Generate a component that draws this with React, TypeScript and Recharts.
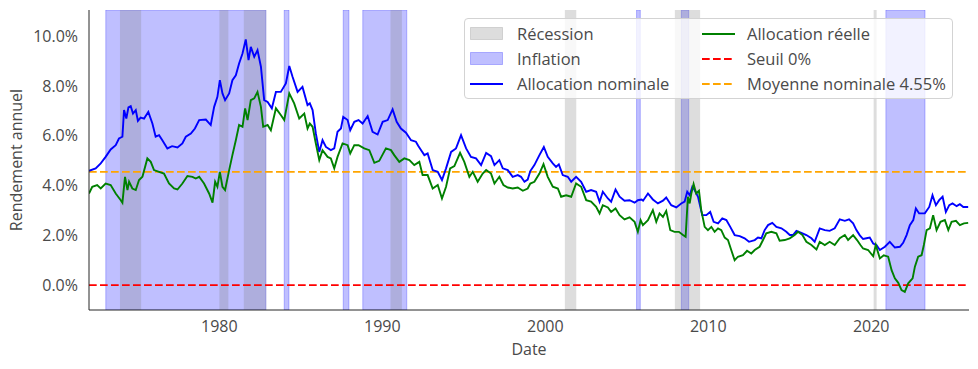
import { Line, LineChart, ReferenceArea, ReferenceLine, XAxis, YAxis } from "recharts";

// [year, % annual yield]
const NOMINAL: [number, number][] = [
  [1972.0, 4.59], [1972.41, 4.69], [1972.72, 4.89], [1973.02, 5.15], [1973.33, 5.45], [1973.64, 5.62],
  [1973.84, 5.89], [1974.05, 5.96], [1974.15, 7.03], [1974.29, 6.69], [1974.42, 7.14], [1974.56, 7.19],
  [1974.7, 6.89], [1974.87, 7.03], [1975.0, 6.6], [1975.17, 6.73], [1975.38, 6.69], [1975.64, 6.96],
  [1975.89, 6.49], [1976.09, 5.96], [1976.3, 6.02], [1976.5, 5.82], [1976.81, 5.49], [1977.1, 5.58],
  [1977.43, 5.53], [1977.73, 5.69], [1977.94, 5.96], [1978.25, 6.09], [1978.5, 6.29], [1978.76, 6.63],
  [1979.17, 6.65], [1979.47, 6.43], [1979.68, 7.16], [1979.88, 7.56], [1980.03, 8.23], [1980.19, 7.7],
  [1980.35, 7.43], [1980.6, 7.7], [1980.8, 8.23], [1981.01, 8.43], [1981.21, 8.9], [1981.42, 9.3],
  [1981.62, 9.87], [1981.79, 9.04], [1981.93, 9.57], [1982.14, 9.17], [1982.34, 9.44], [1982.55, 8.77],
  [1982.75, 7.43], [1982.96, 7.36], [1983.22, 7.1], [1983.47, 7.76], [1983.77, 7.76], [1984.08, 8.1],
  [1984.29, 8.8], [1984.49, 8.37], [1984.8, 7.76], [1985.1, 7.96], [1985.41, 7.23], [1985.55, 7.3],
  [1985.72, 7.03], [1985.92, 6.09], [1986.13, 5.35], [1986.33, 5.82], [1986.54, 5.55], [1986.84, 5.42],
  [1987.05, 5.49], [1987.25, 6.16], [1987.46, 6.29], [1987.6, 6.76], [1987.87, 6.63], [1988.03, 6.22],
  [1988.28, 6.56], [1988.54, 6.63], [1988.79, 6.49], [1989.1, 6.79], [1989.4, 6.16], [1989.71, 6.05],
  [1990.02, 6.56], [1990.33, 6.63], [1990.63, 7.06], [1990.88, 6.56], [1991.14, 6.29], [1991.45, 6.12],
  [1991.76, 5.82], [1992.06, 5.76], [1992.2, 5.6], [1992.4, 5.4], [1992.58, 5.22], [1992.78, 5.29],
  [1993.09, 4.62], [1993.4, 4.55], [1993.66, 4.22], [1993.91, 4.69], [1994.22, 5.35], [1994.52, 5.49],
  [1994.83, 6.02], [1995.14, 5.49], [1995.44, 5.15], [1995.75, 5.09], [1996.06, 4.82], [1996.37, 5.31],
  [1996.67, 5.18], [1996.88, 4.82], [1997.18, 5.02], [1997.39, 4.69], [1997.7, 4.62], [1998.0, 4.35],
  [1998.31, 4.42], [1998.51, 4.35], [1998.72, 4.15], [1998.92, 4.24], [1999.08, 4.58], [1999.33, 4.82],
  [1999.64, 5.22], [1999.91, 5.55], [2000.15, 5.15], [2000.46, 4.89], [2000.66, 4.75], [2000.83, 4.85],
  [2001.07, 4.42], [2001.38, 4.35], [2001.59, 4.15], [2001.89, 4.35], [2002.2, 4.15], [2002.51, 3.75],
  [2002.81, 3.82], [2003.12, 3.75], [2003.33, 3.35], [2003.53, 3.75], [2003.84, 3.48], [2004.04, 3.35],
  [2004.31, 3.84], [2004.56, 3.55], [2004.86, 3.39], [2005.17, 3.41], [2005.48, 3.31], [2005.68, 3.41],
  [2005.91, 3.44], [2006.0, 3.39], [2006.3, 3.68], [2006.6, 3.44], [2006.91, 3.28], [2007.22, 3.39],
  [2007.42, 3.52], [2007.73, 3.21], [2008.04, 3.12], [2008.34, 3.28], [2008.55, 3.35], [2008.71, 3.75],
  [2008.86, 3.61], [2009.02, 3.95], [2009.16, 3.82], [2009.37, 3.55], [2009.63, 2.81], [2009.88, 2.81],
  [2010.12, 2.94], [2010.33, 2.54], [2010.6, 2.48], [2010.86, 2.68], [2011.11, 2.61], [2011.35, 2.34],
  [2011.62, 2.01], [2011.93, 1.97], [2012.23, 1.88], [2012.5, 1.74], [2012.85, 1.81], [2013.05, 1.91],
  [2013.26, 1.88], [2013.46, 2.21], [2013.67, 2.41], [2013.93, 2.5], [2014.18, 2.34], [2014.49, 2.28],
  [2014.79, 2.14], [2015.0, 2.01], [2015.2, 2.01], [2015.41, 2.18], [2015.71, 2.1], [2016.02, 2.01],
  [2016.33, 1.88], [2016.53, 1.74], [2016.84, 2.28], [2017.15, 2.21], [2017.45, 2.18], [2017.76, 2.28],
  [2018.07, 2.64], [2018.38, 2.58], [2018.64, 2.64], [2018.89, 2.48], [2019.09, 2.21], [2019.3, 2.0],
  [2019.5, 1.85], [2019.71, 1.88], [2019.91, 1.91], [2020.12, 1.67], [2020.32, 1.61], [2020.53, 1.41],
  [2020.84, 1.54], [2021.14, 1.74], [2021.45, 1.51], [2021.76, 1.54], [2021.96, 1.7], [2022.17, 2.01],
  [2022.37, 2.41], [2022.58, 2.61], [2022.74, 3.08], [2022.94, 2.88], [2023.29, 2.88], [2023.56, 3.14],
  [2023.76, 3.61], [2023.97, 3.21], [2024.17, 3.41], [2024.38, 3.55], [2024.58, 2.94], [2024.79, 3.21],
  [2024.99, 3.28], [2025.24, 3.17], [2025.44, 3.25], [2025.65, 3.14], [2025.95, 3.14],
];

const REAL: [number, number][] = [
  [1972.0, 3.68], [1972.2, 3.95], [1972.5, 4.02], [1972.72, 3.88], [1973.02, 4.08], [1973.33, 4.02],
  [1973.64, 3.68], [1973.95, 3.41], [1974.05, 3.31], [1974.21, 4.35], [1974.36, 3.82], [1974.46, 4.15],
  [1974.66, 3.88], [1974.87, 3.82], [1975.07, 4.22], [1975.28, 4.35], [1975.58, 5.09], [1975.79, 4.95],
  [1975.99, 4.62], [1976.3, 4.55], [1976.6, 4.48], [1976.91, 4.08], [1977.22, 3.88], [1977.43, 3.84],
  [1977.73, 4.08], [1978.04, 4.38], [1978.35, 4.35], [1978.55, 4.28], [1978.76, 4.35], [1979.06, 4.08],
  [1979.37, 3.68], [1979.58, 3.31], [1979.74, 4.15], [1979.88, 3.95], [1980.03, 4.55], [1980.19, 3.95],
  [1980.35, 3.82], [1980.6, 4.62], [1980.8, 5.22], [1981.01, 5.82], [1981.21, 6.43], [1981.42, 6.36],
  [1981.58, 7.1], [1981.73, 6.63], [1981.93, 7.43], [1982.14, 7.5], [1982.34, 7.76], [1982.55, 7.16],
  [1982.69, 6.36], [1982.96, 6.43], [1983.16, 6.22], [1983.47, 7.1], [1983.77, 6.83], [1983.98, 6.63],
  [1984.29, 7.7], [1984.59, 7.3], [1984.9, 6.69], [1985.21, 6.89], [1985.41, 6.29], [1985.55, 6.49],
  [1985.72, 6.36], [1985.92, 5.69], [1986.13, 5.02], [1986.33, 5.42], [1986.64, 5.15], [1986.84, 5.09],
  [1987.05, 4.69], [1987.25, 5.15], [1987.56, 5.69], [1987.87, 5.62], [1988.03, 5.29], [1988.28, 5.62],
  [1988.54, 5.62], [1988.89, 5.49], [1989.2, 5.42], [1989.51, 4.91], [1989.81, 4.99], [1990.22, 5.49],
  [1990.53, 5.42], [1990.73, 5.22], [1991.04, 4.95], [1991.35, 5.09], [1991.66, 5.02], [1991.96, 4.82],
  [1992.27, 4.95], [1992.47, 4.42], [1992.78, 4.42], [1993.09, 3.88], [1993.4, 4.02], [1993.66, 3.48],
  [1993.91, 3.95], [1994.16, 4.69], [1994.42, 4.78], [1994.77, 5.31], [1995.03, 4.95], [1995.34, 4.35],
  [1995.55, 4.55], [1995.85, 4.15], [1996.16, 4.48], [1996.37, 4.62], [1996.67, 4.48], [1996.88, 4.08],
  [1997.18, 4.35], [1997.43, 4.02], [1997.7, 3.92], [1998.0, 3.88], [1998.31, 3.92], [1998.62, 3.79],
  [1998.92, 3.88], [1999.08, 4.08], [1999.33, 4.15], [1999.64, 4.48], [1999.89, 4.86], [2000.15, 4.35],
  [2000.46, 3.95], [2000.77, 3.88], [2000.97, 3.55], [2001.28, 3.61], [2001.59, 3.55], [2001.89, 4.08],
  [2002.2, 3.95], [2002.51, 3.41], [2002.81, 3.35], [2003.12, 3.14], [2003.33, 2.88], [2003.53, 3.21],
  [2003.84, 3.12], [2004.04, 2.94], [2004.31, 3.08], [2004.56, 2.81], [2004.86, 2.64], [2005.17, 2.72],
  [2005.48, 2.54], [2005.68, 2.14], [2005.85, 2.61], [2005.99, 2.41], [2006.3, 2.61], [2006.6, 3.01],
  [2006.81, 2.54], [2007.01, 2.88], [2007.22, 2.74], [2007.42, 2.98], [2007.67, 2.21], [2007.93, 2.14],
  [2008.2, 2.14], [2008.45, 2.01], [2008.61, 1.94], [2008.75, 3.55], [2008.86, 3.28], [2008.96, 3.68],
  [2009.1, 4.06], [2009.26, 3.68], [2009.43, 3.79], [2009.57, 3.01], [2009.78, 2.34], [2009.98, 2.21],
  [2010.19, 2.34], [2010.39, 2.14], [2010.6, 2.28], [2010.8, 2.21], [2011.01, 1.91], [2011.21, 1.81],
  [2011.41, 1.41], [2011.62, 1.0], [2011.82, 1.14], [2012.13, 1.2], [2012.38, 1.38], [2012.64, 1.27],
  [2012.85, 1.41], [2013.15, 1.54], [2013.36, 1.81], [2013.56, 2.08], [2013.87, 2.14], [2014.18, 2.08],
  [2014.38, 1.78], [2014.69, 1.81], [2015.0, 1.88], [2015.3, 2.01], [2015.51, 2.14], [2015.78, 2.01],
  [2016.02, 1.74], [2016.33, 1.61], [2016.64, 1.43], [2016.84, 1.74], [2017.15, 1.61], [2017.45, 1.74],
  [2017.76, 1.61], [2018.07, 1.88], [2018.38, 2.01], [2018.58, 1.81], [2018.89, 2.01], [2019.13, 1.81],
  [2019.35, 1.6], [2019.5, 1.47], [2019.81, 1.41], [2020.12, 1.16], [2020.28, 1.61], [2020.53, 1.07],
  [2020.77, 1.2], [2021.04, 1.14], [2021.25, 0.6], [2021.45, 0.27], [2021.66, 0.09], [2021.86, -0.2],
  [2022.06, -0.27], [2022.27, 0.07], [2022.54, 0.27], [2022.68, 0.74], [2022.88, 1.14], [2023.09, 1.2],
  [2023.23, 1.61], [2023.4, 2.21], [2023.6, 2.28], [2023.8, 2.81], [2024.01, 2.21], [2024.25, 2.54],
  [2024.52, 2.61], [2024.73, 2.21], [2024.93, 2.54], [2025.2, 2.58], [2025.44, 2.41], [2025.69, 2.48],
  [2025.95, 2.5],
];

const RECESSIONS: [number, number][] = [
  [1973.9, 1975.2], [1980.0, 1980.55], [1981.5, 1982.88], [1990.5, 1991.2],
  [2001.2, 2001.9], [2007.95, 2009.5], [2020.15, 2020.33],
];

const INFLATION: [number, number][] = [
  [1973.03, 1982.85], [1983.98, 1984.27], [1987.6, 1987.95], [1988.8, 1991.5],
  [2005.6, 2005.83], [2008.35, 2008.8], [2020.9, 2023.3],
];

const ZERO_THRESHOLD = 0;
const NOMINAL_MEAN = 4.55;
const YEAR_TICKS = [1980, 1990, 2000, 2010, 2020];
const PCT_TICKS = [0, 2, 4, 6, 8, 10];

const nominalData = NOMINAL.map(([year, value]) => ({ year, value }));
const realData = REAL.map(([year, value]) => ({ year, value }));

const FONT = "'Open Sans', 'Noto Sans', sans-serif";
const TEXT = "#4a4a4a";
const TICK = { fill: TEXT, fontSize: 16, fontFamily: FONT };
const FRAME = "#262626";

type LegendItem = { label: string; kind: "patch" | "line" | "dash"; color: string; opacity?: number };

const LEGEND_COL_1: LegendItem[] = [
  { label: "Récession", kind: "patch", color: "#808080", opacity: 0.27 },
  { label: "Inflation", kind: "patch", color: "#0000ff", opacity: 0.25 },
  { label: "Allocation nominale", kind: "line", color: "#0000ff" },
];
const LEGEND_COL_2: LegendItem[] = [
  { label: "Allocation réelle", kind: "line", color: "#008000" },
  { label: "Seuil 0%", kind: "dash", color: "#ff0000" },
  { label: `Moyenne nominale ${NOMINAL_MEAN}%`, kind: "dash", color: "#ffa500" },
];

function Swatch({ item }: { item: LegendItem }) {
  if (item.kind === "patch") {
    return (
      <svg width={33} height={14} style={{ flex: "none" }}>
        <rect x={0.5} y={0.5} width={32} height={12} fill={item.color} fillOpacity={item.opacity}
          stroke={item.color} strokeOpacity={item.opacity} />
      </svg>
    );
  }
  return (
    <svg width={33} height={14} style={{ flex: "none" }}>
      <line x1={0} x2={33} y1={7} y2={7} stroke={item.color} strokeWidth={2}
        strokeDasharray={item.kind === "dash" ? "7.7 3.3" : undefined} />
    </svg>
  );
}

function LegendColumn({ items, width, gap }: { items: LegendItem[]; width: number; gap: number }) {
  return (
    <div style={{ width }}>
      {items.map((item) => (
        <div key={item.label} style={{ display: "flex", alignItems: "center", height: 25 }}>
          <Swatch item={item} />
          <span style={{ marginLeft: gap, whiteSpace: "nowrap" }}>{item.label}</span>
        </div>
      ))}
    </div>
  );
}

export default function App() {
  return (
    <div style={{ position: "absolute", left: 0, top: 0, width: 978, height: 369, background: "#fff" }}>
      <LineChart width={978} height={369} margin={{ top: 10, right: 9, bottom: 0, left: 0 }}>
        {INFLATION.map(([x1, x2]) => (
          <ReferenceArea key={`i${x1}`} x1={x1} x2={x2} fill="#0000ff" fillOpacity={0.25}
            stroke="#0000ff" strokeOpacity={0.25} ifOverflow="hidden" />
        ))}
        {RECESSIONS.map(([x1, x2]) => (
          <ReferenceArea key={`r${x1}`} x1={x1} x2={x2} fill="#808080" fillOpacity={0.27}
            stroke="none" ifOverflow="hidden" />
        ))}
        <XAxis dataKey="year" type="number" domain={[1972, 2026]} ticks={YEAR_TICKS}
          allowDataOverflow tick={TICK} tickLine={false} tickMargin={5} height={59}
          axisLine={{ stroke: FRAME }}
          label={{ value: "Date", position: "insideBottom", offset: 14, fill: TEXT, fontSize: 16, fontFamily: FONT }} />
        <XAxis xAxisId="top" orientation="top" type="number" domain={[1972, 2026]} height={0}
          tick={false} tickLine={false} axisLine={{ stroke: FRAME }} />
        <YAxis type="number" domain={[-1, 11.05]} ticks={PCT_TICKS} allowDataOverflow width={89}
          tick={TICK} tickLine={false} tickMargin={5} axisLine={{ stroke: FRAME }}
          tickFormatter={(v: number) => `${v.toFixed(1)}%`}
          label={{ value: "Rendement annuel", angle: -90, position: "insideLeft", offset: 16,
            style: { textAnchor: "middle" }, fill: TEXT, fontSize: 16, fontFamily: FONT }} />
        <YAxis yAxisId="right" orientation="right" width={0} tick={false} tickLine={false}
          axisLine={{ stroke: FRAME }} />
        <ReferenceLine y={ZERO_THRESHOLD} stroke="#ff0000" strokeWidth={1.8} strokeDasharray="7.7 3.3" />
        <ReferenceLine y={NOMINAL_MEAN} stroke="#ffa500" strokeWidth={1.8} strokeDasharray="7.7 3.3" />
        <Line data={nominalData} dataKey="value" type="linear" stroke="#0000ff" strokeWidth={1.9}
          dot={false} isAnimationActive={false} />
        <Line data={realData} dataKey="value" type="linear" stroke="#008000" strokeWidth={1.9}
          dot={false} isAnimationActive={false} />
      </LineChart>
      <div style={{
        position: "absolute", left: 464, top: 18, width: 489, height: 81, boxSizing: "border-box",
        background: "rgba(255,255,255,0.8)", border: "1px solid #d3d3d3", borderRadius: 4,
        padding: "2px 0 0 5px", display: "flex", fontFamily: FONT, fontSize: 16.5, color: TEXT,
      }}>
        <LegendColumn items={LEGEND_COL_1} width={232} gap={14} />
        <LegendColumn items={LEGEND_COL_2} width={240} gap={12} />
      </div>
    </div>
  );
}
